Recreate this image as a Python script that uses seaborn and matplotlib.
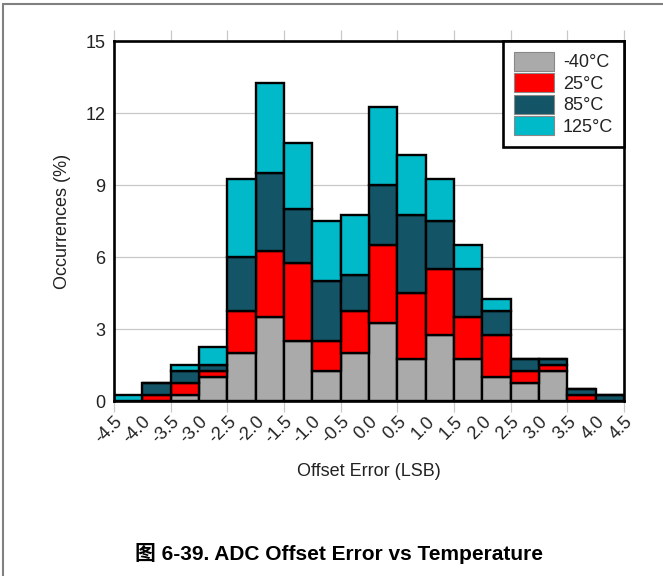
import numpy as np
import pandas as pd
import matplotlib
matplotlib.use("Agg")
import matplotlib.pyplot as plt
import seaborn as sns
from matplotlib.patches import Patch
from matplotlib.lines import Line2D

# ---- data ----
bin_edges = [-4.5, -4.0, -3.5, -3.0, -2.5, -2.0, -1.5, -1.0, -0.5, 0.0,
             0.5, 1.0, 1.5, 2.0, 2.5, 3.0, 3.5, 4.0, 4.5]
temps = ['-40°C', '25°C', '85°C', '125°C']
occ_m40 = [0, 0, 0.25, 1.0, 2.0, 3.5, 2.5, 1.25, 2.0, 3.25, 1.75, 2.75, 1.75, 1.0, 0.75, 1.25, 0, 0]
occ_25 = [0, 0.25, 0.5, 0.25, 1.75, 2.75, 3.25, 1.25, 1.75, 3.25, 2.75, 2.75, 1.75, 1.75, 0.5, 0.25, 0.25, 0]
occ_85 = [0, 0.5, 0.5, 0.25, 2.25, 3.25, 2.25, 2.5, 1.5, 2.5, 3.25, 2.0, 2.0, 1.0, 0.5, 0.25, 0.25, 0.25]
occ_125 = [0.25, 0, 0.25, 0.75, 3.25, 3.75, 2.75, 2.5, 2.5, 3.25, 2.5, 1.75, 1.0, 0.5, 0, 0, 0, 0]
x_tick_labels = ['-4.5', '-4.0', '-3.5', '-3.0', '-2.5', '-2.0', '-1.5', '-1.0', '-0.5', '0.0',
                 '0.5', '1.0', '1.5', '2.0', '2.5', '3.0', '3.5', '4.0', '4.5']
y_ticks = [0, 3, 6, 9, 12, 15]
colors = ['#aaaaaa', '#ff0000', '#135566', '#00b9c9']

sns.set_theme(style='white')
plt.rcParams['font.family'] = ['Liberation Sans', 'Noto Sans CJK SC']

centers = [(a + b) / 2 for a, b in zip(bin_edges[:-1], bin_edges[1:])]
rows = []
for t, vals in zip(temps, [occ_m40, occ_25, occ_85, occ_125]):
    for c, v in zip(centers, vals):
        rows.append({'x': c, 'w': v, 'temp': t})
df = pd.DataFrame(rows)
palette = dict(zip(temps, colors))

FS = 13
W, H = 663, 576
fig = plt.figure(figsize=(W / 100, H / 100), dpi=100)
ax = fig.add_axes([114 / W, 1 - 401 / H, 510 / W, 360 / H])
ax.set_axisbelow(True)
ax.yaxis.grid(True, color='#c8c8c8', lw=0.9)
ax.xaxis.grid(False)

sns.histplot(data=df, x='x', weights='w', hue='temp', hue_order=temps[::-1],
             bins=bin_edges, multiple='stack', palette=palette, alpha=1,
             edgecolor='black', linewidth=1.7, legend=False, ax=ax)

ax.set_xlim(-4.5, 4.5)
ax.set_ylim(0, 15)
ax.set_yticks(y_ticks)
ax.set_yticklabels([str(v) for v in y_ticks])
ax.tick_params(axis='y', length=0, pad=6, labelsize=FS, labelcolor='#222222')

ax.set_xticks(bin_edges)
ax.set_xticklabels(x_tick_labels, rotation=45, ha='right', va='top',
                   rotation_mode='anchor')
ax.tick_params(axis='x', which='major', length=8, width=0.9, color='#c8c8c8',
               direction='out', top=True, bottom=True, labelbottom=True,
               labeltop=False, pad=0.5, labelsize=FS, labelcolor='#222222')
for i, tk in enumerate(ax.xaxis.get_major_ticks()):
    if i % 2 == 1:
        tk.tick1line.set_visible(False)
        tk.tick2line.set_visible(False)

for s in ax.spines.values():
    s.set_visible(True)
    s.set_color('black')
    s.set_linewidth(1.9)

ax.set_xlabel('Offset Error (LSB)', fontsize=FS, color='#222222')
ax.xaxis.set_label_coords(0.5, -0.172)
ax.set_ylabel('Occurrences (%)', fontsize=FS, color='#222222')
ax.yaxis.set_label_coords(-0.084, 0.5)

handles = [Patch(facecolor=c, edgecolor='#888888', linewidth=0.8) for c in colors]
leg = ax.legend(handles, temps, loc='upper right', borderaxespad=0,
                frameon=True, fancybox=False, framealpha=1, edgecolor='black',
                fontsize=FS, handlelength=2.2, handleheight=1.25,
                labelspacing=0.1, borderpad=0.6, handletextpad=0.5)
leg.get_frame().set_linewidth(1.9)
for t in leg.get_texts():
    t.set_color('#222222')

# figure border (left and top)
fig.add_artist(Line2D([3 / W, 3 / W], [0, 1 - 4 / H], transform=fig.transFigure,
                      color='#808080', lw=1.5))
fig.add_artist(Line2D([3 / W, 1], [1 - 4 / H, 1 - 4 / H], transform=fig.transFigure,
                      color='#808080', lw=1.5))

fig.text(339 / W, 1 - 553 / H, '图 6-39. ADC Offset Error vs Temperature',
         ha='center', va='center', fontsize=15, fontweight='bold',
         family=['Liberation Sans', 'Noto Sans CJK SC'], color='black')

fig.savefig('out.png', dpi=100)
